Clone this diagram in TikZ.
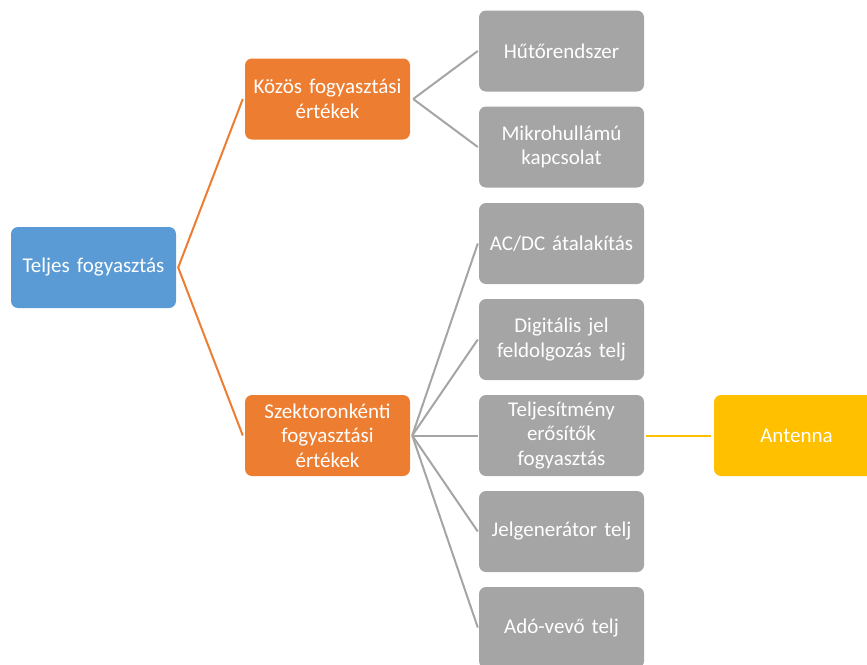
\documentclass[tikz,border=0pt]{standalone}
\usepackage{fontspec}
\setmainfont{Carlito}[WordSpace={0.85,0,0}]
\definecolor{cblue}{HTML}{5B9BD5}
\definecolor{corange}{HTML}{ED7D31}
\definecolor{cgray}{HTML}{A5A5A5}
\definecolor{cyellow}{HTML}{FFC000}
\begin{document}
\begin{tikzpicture}[x=1pt,y=-1pt,
  box/.style={rounded corners=7pt, minimum width=165pt, minimum height=81pt,
    inner sep=2pt, text=white, align=center, text width=160pt,
    font=\fontsize{21}{24.5}\selectfont},
  bluebox/.style={box, fill=cblue},
  orangebox/.style={box, fill=corange},
  graybox/.style={box, fill=cgray},
  yellowbox/.style={box, fill=cyellow},
  olink/.style={draw=corange, line width=2pt},
  glink/.style={draw=cgray, line width=2pt},
  ylink/.style={draw=cyellow, line width=2pt}]
\useasboundingbox (0,0) rectangle (867,664);
\node[bluebox]   (root) at (93.5,267.5) {Teljes fogyasztás};
\node[orangebox] (kozos) at (327.5,99) {Közös fogyasztási\\értékek};
\node[orangebox] (szekt) at (327.5,435.5) {Szektoronkénti\\fogyasztási\\értékek};
\node[graybox] (g1) at (561.5,51) {Hűtőrendszer};
\node[graybox] (g2) at (561.5,147) {Mikrohullámú\\kapcsolat};
\node[graybox] (g3) at (561.5,243.5) {AC/DC átalakítás};
\node[graybox] (g4) at (561.5,339.5) {Digitális jel\\feldolgozás telj};
\node[graybox] (g5) at (561.5,435.5) {Teljesítmény\\erősítők\\fogyasztás};
\node[graybox] (g6) at (561.5,531.5) {Jelgenerátor telj};
\node[graybox] (g7) at (561.5,627.5) {Adó-vevő telj};
\node[yellowbox] (ant) at (796.5,435.5) {Antenna};
% connectors leave each parent a little right of its edge
\coordinate (rootR) at ([xshift=2pt]root.east);
\coordinate (kozosR) at ([xshift=3pt]kozos.east);
\coordinate (szektR) at ([xshift=2pt]szekt.east);
\draw[olink] ([xshift=-2pt]kozos.west) -- (rootR) -- ([xshift=-2pt]szekt.west);
\foreach \g in {g1,g2} \draw[glink] (kozosR) -- ([xshift=-1pt]\g.west);
\foreach \g in {g3,g4,g5,g6,g7} \draw[glink] (szektR) -- ([xshift=-1pt]\g.west);
\draw[ylink] ([xshift=2pt]g5.east) -- ([xshift=-3pt]ant.west);
\end{tikzpicture}
\end{document}
